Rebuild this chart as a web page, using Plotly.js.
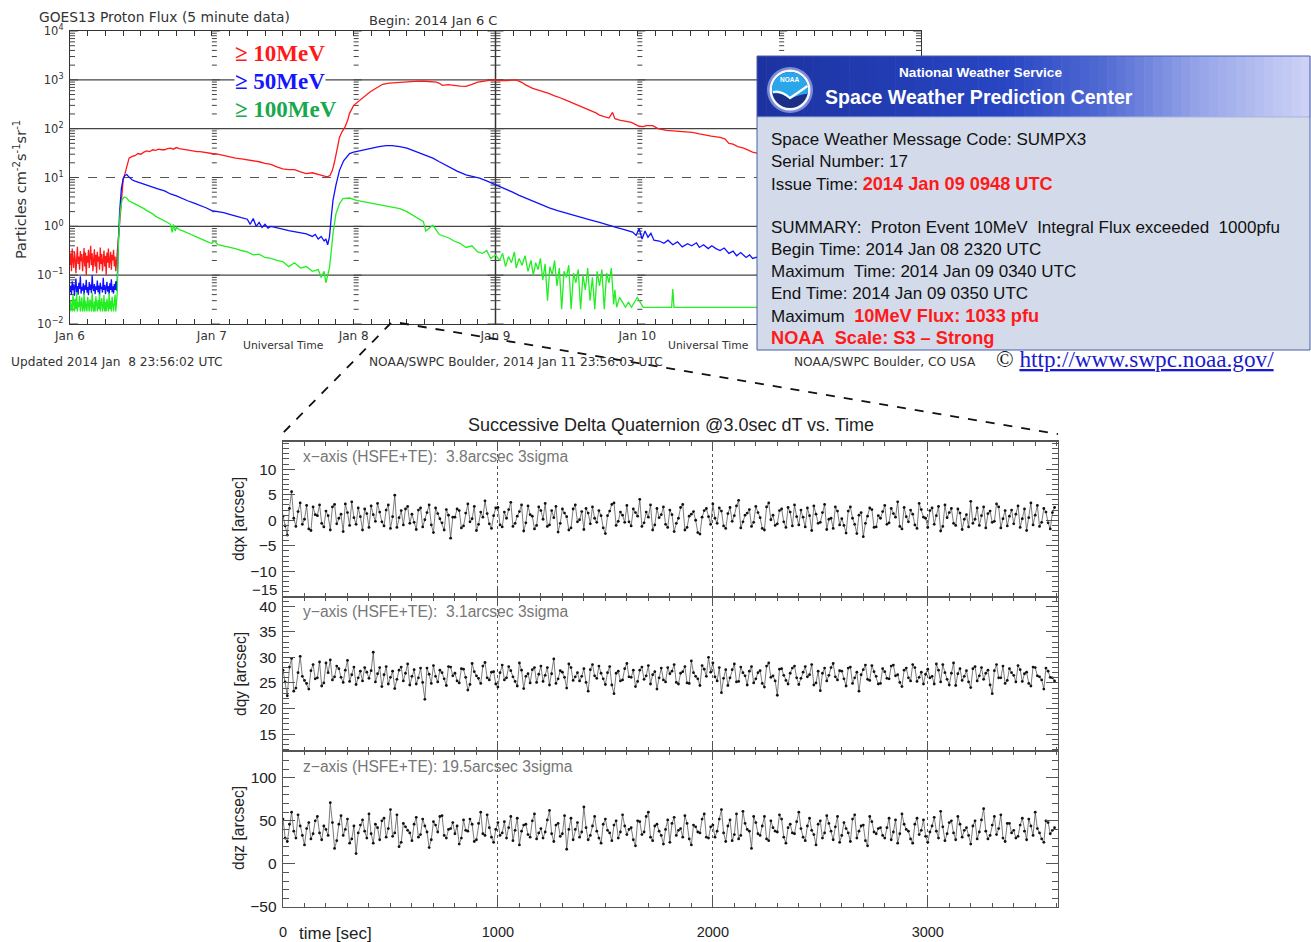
<!DOCTYPE html>
<html><head><meta charset="utf-8">
<script src="https://cdn.plot.ly/plotly-3.0.1.min.js"></script>
<style>html,body{margin:0;padding:0;background:#fff}#chart{width:1311px;height:942px}</style>
</head><body><div id="chart"></div>
<script>
// ---------------- GOES13 proton flux data (hours after 2014-01-06 00:00 UTC) ----------------
const bgHours = [0,0.125,0.25,0.375,0.5,0.625,0.75,0.875,1,1.125,1.25,1.375,1.5,1.625,1.75,1.875,2,2.125,2.25,2.375,2.5,2.625,2.75,2.875,3,3.125,3.25,3.375,3.5,3.625,3.75,3.875,4,4.125,4.25,4.375,4.5,4.625,4.75,4.875,5,5.125,5.25,5.375,5.5,5.625,5.75,5.875,6,6.125,6.25,6.375,6.5,6.625,6.75,6.875,7,7.125,7.25,7.375,7.5,7.625,7.75,7.875,8];
const redBg = [0.16,0.28,0.12,0.35,0.2,0.14,0.3,0.22,0.11,0.26,0.38,0.17,0.24,0.13,0.31,0.19,0.27,0.12,0.22,0.36,0.15,0.29,0.1,0.25,0.18,0.33,0.14,0.23,0.4,0.16,0.28,0.12,0.21,0.34,0.15,0.26,0.11,0.3,0.19,0.24,0.13,0.37,0.17,0.27,0.12,0.22,0.32,0.15,0.25,0.1,0.29,0.18,0.35,0.14,0.23,0.3,0.13,0.26,0.2,0.33,0.15,0.24,0.12,0.28,0.3];
const blueBg = [0.045,0.06,0.04,0.075,0.05,0.065,0.038,0.055,0.085,0.045,0.06,0.04,0.07,0.052,0.095,0.042,0.058,0.048,0.068,0.04,0.062,0.05,0.08,0.044,0.057,0.039,0.072,0.05,0.064,0.043,0.1,0.055,0.047,0.066,0.041,0.059,0.05,0.078,0.045,0.061,0.038,0.07,0.052,0.058,0.044,0.088,0.05,0.063,0.041,0.056,0.073,0.046,0.06,0.04,0.068,0.05,0.082,0.045,0.059,0.042,0.066,0.05,0.075,0.048,0.08];
const greenBg = [0.018,0.03,0.022,0.018,0.04,0.025,0.018,0.033,0.02,0.045,0.018,0.028,0.022,0.038,0.018,0.026,0.035,0.018,0.021,0.042,0.018,0.03,0.024,0.018,0.036,0.02,0.018,0.032,0.027,0.018,0.044,0.022,0.018,0.029,0.018,0.037,0.023,0.018,0.031,0.02,0.041,0.018,0.026,0.034,0.018,0.022,0.039,0.018,0.028,0.018,0.033,0.024,0.018,0.043,0.02,0.03,0.018,0.036,0.022,0.018,0.027,0.04,0.018,0.032,0.045];

const redHours = [8.2,8.4,8.7,9.0,9.3,9.7,10,10.5,11,11.5,12,12.5,13,13.5,14,14.5,15,15.5,16,16.5,17,17.5,18,18.5,19,19.5,20,20.5,21,21.5,22,22.5,23,23.5,24,25,26,27,28,29,30,31,32,33,34,35,36,37,38,39,40,41,42,42.5,43,43.5,44,44.4,44.8,45.2,45.6,46,46.5,47,47.3,48,49,50,50.7,51.5,52.2,52.9,54,55,55.8,57,58,59,60,61.3,62,62.5,63,64,65,66,67,67.5,68,69,70,71,71.5,72,73,74,75,75.5,76.5,77,78.3,79.5,80.5,81,82,82.5,84,85,86,86.7,88,89,89.6,90.5,91.2,91.8,92.2,93,94,95,96.3,97,97.5,98.6,99.5,100.9,102,103,104,105.3,106.5,107.6,108.5,110,110.8,111.5,112.2,113,114,115.5,117,120,124,128,132,136,140,144];
const redFlux = [0.6,1.2,4,9,12,20,25,27,28,31,30,33,35,34,37,36,38,37,37,39,40,38,41,39,38,37,37,36,35,34,34,33,32,31,31,30,28,27,25,24,23,22,21,19.5,18.5,16.5,15,14.5,14.5,13,12,12.5,11.5,11,10.5,10.3,11,14,22,40,66,85,106,150,206,300,380,470,555,640,730,810,860,880,890,910,930,940,935,930,900,850,770,800,760,740,735,760,810,900,950,975,1000,990,960,970,975,1000,880,800,670,600,560,530,470,450,380,340,300,275,235,210,190,175,165,215,160,150,140,135,112,110,115,115,100,92,90,88,86,84,78,73,70,66,62,50,48,43,40,33,30,27,22,19,17,15,13,12];

const blueHours = [8.2,8.4,8.7,9.0,9.3,9.6,10,10.5,11,12,13,14,15,16,17,18,19,20,21,22,23,24,25,26,27,28,29,30,30.5,31,31.5,32,32.5,33,33.5,34,35,36,37,38,39,40,41,41.5,42,42.5,43,43.3,43.6,43.9,44.2,44.5,45,45.6,46.3,47.3,48,49,50,51.2,52.3,53.5,54.5,55.8,57,58,59,60,61.4,62.5,63.3,64.2,65.5,67,68,69.3,70.5,72.2,73.5,74.9,76,77.7,79,80.3,81.1,82.5,84,85.3,86.7,88,89.6,90.5,91.5,92.4,93.5,94.5,95.2,95.8,96.3,96.8,97.3,97.8,98.3,98.8,99.7,100.5,101.2,102,102.8,103.6,104.5,105.2,106,106.5,107.2,108,108.6,109.3,110,110.7,111.5,112.2,112.8,113.5,114.4,115,115.5,116.5,118,120,124,128,132,136,140,144];
const blueFlux = [0.5,2,6,9.5,11,11.5,10.2,9,8.4,7.6,7,6.4,5.8,5.3,4.6,4.2,3.7,3.3,3.0,2.7,2.4,2.1,2.0,1.9,1.75,1.6,1.5,1.4,1.1,1.45,1.0,1.2,0.95,1.1,0.92,1.0,0.95,0.88,0.82,0.78,0.72,0.7,0.62,0.68,0.55,0.62,0.5,0.55,0.42,0.6,1.5,3.4,7,14,22,31,33,35,37,41,43,45,45,43,40,36,32,29,25,21,18.5,16.5,13.5,11.3,10.5,9.7,8.5,7,6,5,4.3,3.5,3.0,2.6,2.4,2.1,1.85,1.65,1.5,1.35,1.2,1.1,1.0,0.95,0.88,0.8,0.76,0.65,0.9,0.55,0.8,0.6,0.72,0.52,0.5,0.45,0.52,0.42,0.48,0.38,0.44,0.4,0.46,0.37,0.42,0.35,0.4,0.35,0.32,0.36,0.28,0.31,0.25,0.29,0.23,0.26,0.22,0.24,0.2,0.19,0.17,0.15,0.13,0.12,0.11,0.1];

const greenHours = [8.2,8.5,8.8,9.2,9.6,10,10.5,11,11.5,12,12.5,13,13.5,14,14.5,15,15.5,16,16.5,17,17.3,17.5,17.8,18,18.5,19,19.5,20,20.5,21,21.5,22,22.5,23,23.5,24,24.5,25,26,27,28,29,30,31,32,33,34,35,36,37,38,39,40,41,42,42.5,43,43.3,43.6,43.9,44.2,44.5,45,45.6,46.2,47.3,48.5,50.2,51.5,52.9,54.5,55.8,57,58.6,59.5,59.8,60.2,61.4,62.5,63.3,64.2,65,66,67,68,69,69.8,70.5,71.2,72,72.7,73.2,73.7,74.2,74.7,75.2,75.5,76,76.5,77,77.5,78,78.4,78.8,79.2,79.6,80,80.4,80.8,81.2,81.6,82,82.4,82.8,83.2,83.6,84,84.4,84.8,85.2,85.6,86,86.4,86.8,87.2,87.6,88,88.4,88.8,89.2,89.6,90,90.4,90.8,91.2,91.6,92,92.2,92.5,93,94,94.5,95,96,97,98,100,101.8,102,102.2,102.4,103,106,110,115,120,130,144];
const greenFlux = [0.5,2,3.5,4,3.8,3.3,3.1,2.9,2.7,2.5,2.3,2.1,1.95,1.8,1.6,1.5,1.4,1.3,1.2,1.1,0.75,1.1,0.8,0.95,0.85,0.82,0.78,0.72,0.68,0.64,0.6,0.56,0.52,0.5,0.47,0.45,0.5,0.42,0.4,0.37,0.35,0.32,0.3,0.26,0.27,0.23,0.22,0.2,0.19,0.15,0.18,0.14,0.15,0.12,0.13,0.09,0.12,0.07,0.1,0.14,0.3,0.7,1.8,2.9,3.7,3.8,3.4,3.1,2.9,2.7,2.5,2.3,2.0,1.5,1.3,1.25,0.8,1.05,0.68,0.62,0.57,0.5,0.45,0.37,0.4,0.3,0.28,0.32,0.22,0.26,0.2,0.28,0.15,0.24,0.18,0.3,0.14,0.22,0.16,0.25,0.12,0.2,0.1,0.18,0.13,0.22,0.08,0.17,0.03,0.15,0.1,0.2,0.06,0.14,0.02,0.12,0.09,0.16,0.02,0.11,0.07,0.13,0.02,0.1,0.05,0.14,0.03,0.09,0.02,0.12,0.06,0.13,0.02,0.11,0.07,0.14,0.025,0.05,0.022,0.035,0.022,0.028,0.022,0.035,0.022,0.022,0.022,0.022,0.052,0.022,0.022,0.022,0.022,0.022,0.022,0.022,0.022,0.022];

const dayTicks = ['Jan 6','Jan 7','Jan 8','Jan 9','Jan 10',''];

// ---------------- Successive delta quaternion data (3.0 s dT, shown every 10 s: even + odd samples) ----------------
const sampleStep = 10;
const dqxEven = [
0.8,-2.9,5.6,-1.2,3.4,0.2,-1.7,2.6,0.9,-0.6,
1.8,-1.9,3.1,0.4,-2.2,1.5,3.6,-0.8,0.7,2.2,
-1.4,1.1,3.3,-0.3,2.0,-1.6,4.9,0.5,-0.9,2.7,
1.2,-1.8,2.4,0.1,3.0,-2.4,1.3,-0.5,2.1,-3.5,
0.6,1.9,-1.1,3.2,0.3,-2.0,1.6,3.8,-0.7,0.9,
2.5,-1.3,0.4,3.5,-0.6,1.7,-2.1,2.8,0.8,-1.0,
1.9,3.3,-0.9,0.5,-2.3,2.2,0.7,-1.5,3.0,0.1,
-1.8,1.4,2.6,-0.4,0.9,-2.6,1.8,3.4,-0.2,1.0,
2.9,-1.1,1.5,4.1,-0.5,0.6,-1.9,2.3,1.1,-0.8,
2.0,-2.2,0.4,3.1,-1.4,1.2,0.0,-2.7,1.9,0.7,
3.2,-0.6,1.8,-1.6,2.5,0.9,3.9,-0.3,1.4,-1.2,
2.7,0.5,-1.9,3.4,1.0,-0.7,2.2,-1.4,1.6,3.0,
-0.9,0.6,2.4,-2.0,1.2,-0.4,3.1,0.2,-1.6,1.8,
0.3,-2.5,2.6,-0.8,1.0,-3.2,0.8,2.1,-1.3,0.4,
2.9,-0.5,1.3,3.6,-1.7,0.7,2.0,-0.9,3.3,0.6,
-1.4,2.4,0.9,-2.1,3.0,1.5,-0.6,2.2,-1.8,1.1,
3.7,0.2,-1.0,2.6,1.3,-0.4,3.2,-1.5,1.9,0.8,
-0.7,2.8,0.3,-2.0,3.4,1.0,-1.2,2.3,-0.5,1.5];
const dqxOdd = [
-1.1,2.3,0.4,1.7,-0.8,2.9,-2.0,1.1,3.0,-1.3,
0.9,2.6,-0.7,1.2,3.2,-1.0,0.5,2.4,-1.9,1.3,
2.8,-0.2,1.6,-1.1,3.0,0.7,-1.4,1.9,2.2,-0.6,
-0.4,2.0,-1.3,1.5,-0.9,2.4,0.3,-1.9,1.0,0.6,
2.2,-1.5,1.4,-0.3,2.7,-0.8,0.6,1.3,-1.6,2.4,
-0.9,1.6,2.1,-1.2,0.8,3.0,-0.5,1.1,-1.7,2.6,
0.2,-1.2,1.9,2.7,-0.6,1.4,-1.9,2.2,-0.3,1.7,
2.3,-0.7,0.4,1.9,-1.5,0.9,3.1,-1.0,1.6,-0.4,
-0.3,2.2,0.8,-1.2,1.6,3.0,-0.9,0.5,2.6,-1.4,
1.1,-0.6,2.5,-1.9,0.8,1.7,-2.4,0.6,2.3,-0.8,
0.4,2.4,-1.1,1.3,-0.2,2.8,-1.5,1.0,2.1,-0.4,
1.5,-1.6,2.6,0.1,-1.0,1.9,-0.3,2.5,-1.1,0.7,
2.0,-1.3,0.9,2.8,-0.6,1.5,-1.8,0.4,2.6,-0.9,
-1.0,1.8,0.4,-2.6,1.5,-0.6,2.4,-1.4,0.9,1.7,
-0.8,2.3,0.6,-1.2,2.5,-0.3,1.2,-1.6,2.1,0.4,
1.9,-0.8,2.7,-1.2,0.5,2.3,-1.0,1.4,0.2,-1.3,
-0.6,2.4,0.9,-1.5,1.8,-0.2,2.6,0.3,-1.1,2.0,
1.2,-1.4,2.2,0.5,-0.9,2.9,-0.4,1.6,-1.7,2.5];
const dqyEven = [
27.5,22.5,29.8,24.0,30.2,25.5,23.8,28.6,26.0,24.4,
28.9,29.5,26.2,27.8,25.1,29.4,26.6,24.7,27.3,28.0,
25.9,31.0,26.8,24.3,28.2,26.1,23.9,27.5,25.4,28.7,
26.3,24.8,27.9,21.8,26.7,28.4,25.2,27.0,24.5,28.1,
26.9,25.0,27.7,23.6,28.8,26.4,24.9,29.0,25.6,27.2,
24.2,28.5,26.0,27.4,25.3,28.9,23.9,26.8,27.6,25.1,
28.3,26.5,24.6,29.7,25.8,27.1,24.0,28.0,26.2,25.4,
27.8,23.4,28.6,25.9,26.9,24.7,28.2,22.9,27.3,25.6,
28.8,26.1,24.3,27.5,25.7,28.4,26.6,23.8,27.9,25.2,
26.8,28.6,24.8,27.2,25.0,29.3,26.3,24.5,27.7,30.0,
28.9,25.4,23.1,27.6,26.0,28.7,25.3,27.0,24.6,28.2,
25.8,27.4,24.2,28.9,26.4,22.6,27.8,25.5,26.9,28.3,
24.7,27.1,26.2,28.6,25.0,23.5,27.9,26.5,28.8,25.6,
27.3,24.4,28.1,26.0,23.4,27.6,25.7,28.4,26.3,24.9,
27.2,25.8,28.5,26.6,24.3,27.9,25.4,28.0,26.1,24.8,
27.7,26.3,28.7,25.2,27.0,24.6,28.9,26.8,25.5,27.4,
24.1,28.2,26.4,25.7,27.5,22.9,28.6,26.0,24.9,27.8,
26.5,28.4,25.3,27.1,24.4,28.0,26.2,23.8,27.3,26.0];
const dqyOdd = [
25.2,28.1,23.4,27.0,26.3,24.9,27.4,25.8,29.1,25.0,
27.0,25.6,28.3,26.1,27.5,25.3,28.1,26.0,25.4,27.1,
27.4,25.2,28.0,26.6,24.8,27.3,25.7,28.1,26.9,24.6,
27.6,26.0,25.1,27.9,24.9,26.3,27.5,25.8,28.2,26.4,
25.4,27.8,26.1,24.7,27.2,25.9,28.3,26.0,27.1,24.8,
27.0,25.6,28.2,26.2,24.4,27.5,26.3,25.0,28.0,26.7,
25.3,28.0,26.8,24.9,27.4,26.1,28.7,25.5,27.0,26.3,
25.1,27.6,26.4,28.3,25.8,27.0,24.6,26.9,25.4,27.8,
26.2,27.5,25.3,28.1,26.4,24.8,27.2,26.0,25.6,28.0,
27.3,25.1,26.9,28.2,24.9,27.0,25.8,28.4,26.3,27.1,
26.2,28.0,25.9,24.5,27.6,25.2,28.1,26.4,27.3,25.0,
27.0,24.9,28.3,26.1,25.4,27.7,26.5,24.8,27.9,26.0,
25.9,28.2,26.6,24.6,27.3,26.9,25.4,28.0,26.2,27.4,
25.8,27.9,24.9,27.1,26.6,28.5,25.5,27.2,24.8,27.8,
25.9,28.3,26.4,25.1,27.5,26.0,28.6,25.3,27.1,26.7,
26.0,24.8,27.5,28.6,25.7,26.9,24.5,27.8,26.3,25.2,
27.8,25.4,28.0,26.9,24.6,27.4,26.0,28.3,25.5,27.0,
25.2,27.6,26.8,24.9,28.1,26.4,25.6,27.9,26.1,25.4];
const dqzEven = [
52,26,60,30,44,22,48,35,55,28,
40,71,18,46,33,52,29,12,45,38,
58,24,42,50,31,63,36,20,47,39,
27,54,34,44,19,49,37,56,30,41,
35,23,51,38,46,28,60,33,42,25,
48,36,30,55,39,22,45,34,50,29,
41,37,62,26,47,35,17,53,40,31,
66,28,44,38,24,52,36,45,30,57,
34,42,21,49,37,60,27,46,33,40,
25,54,39,31,47,22,43,36,58,30,
45,38,63,26,51,34,29,61,40,18,
48,33,55,27,42,37,52,24,46,35,
60,31,44,39,22,50,36,47,28,55,
33,41,26,57,38,45,21,49,35,42,
30,53,37,24,58,40,29,46,34,51,
25,44,38,61,27,48,36,55,31,42,
23,50,37,64,29,45,34,57,26,47,
39,32,53,28,44,60,36,25,48,39];
const dqzOdd = [
30,46,38,57,33,41,29,50,36,44,
33,48,27,56,40,24,44,36,51,30,
35,46,28,53,41,32,57,25,43,36,
46,31,52,37,28,45,55,33,40,48,
44,30,39,52,26,47,35,57,31,40,
33,49,42,27,53,38,46,31,58,36,
30,51,35,45,32,56,40,28,48,37,
42,33,55,30,46,39,27,50,37,44,
40,28,50,34,55,31,44,38,23,51,
47,33,41,56,29,45,37,52,31,43,
31,52,36,44,27,58,33,47,38,55,
35,44,29,50,38,57,31,42,36,49,
41,27,53,34,46,30,56,38,43,25,
48,36,52,30,44,27,55,37,41,33,
42,28,51,35,46,38,24,53,39,32,
37,54,30,43,35,50,28,46,39,33,
44,29,51,38,33,55,41,30,47,36,
30,45,38,52,33,41,29,50,35,42];
const panelNotes = ['x\u2212axis (HSFE+TE):\u00a0 3.8arcsec 3sigma','y\u2212axis (HSFE+TE):\u00a0 3.1arcsec 3sigma','z\u2212axis (HSFE+TE): 19.5arcsec 3sigma'];
const panelTitles = ['dqx [arcsec]','dqy [arcsec]','dqz [arcsec]'];

// ---------------- helpers ----------------
const W = 1311, H = 942;
const X = p => p / W, Y = p => 1 - p / H;
const T0 = Date.UTC(2014, 0, 6);
const toDate = h => new Date(T0 + h * 3600000).toISOString().slice(0, 19).replace('T', ' ');
const TL = 70, TR = 921, TT = 31, TB = 324;
const LY = v => TB - (Math.log10(v) + 2) / 6 * (TB - TT);
const DX = d => TL + d * (TR - TL) / 6;
const interleave = (a, b) => { const o = []; a.forEach((v, i) => { o.push(v); if (i < b.length) o.push(b[i]); }); return o; };
const tTimes = arr => arr.map((_, i) => i * sampleStep);

const redX = bgHours.concat(redHours).map(toDate), redY = redBg.concat(redFlux);
const blueX = bgHours.concat(blueHours).map(toDate), blueY = blueBg.concat(blueFlux);
const greenX = bgHours.concat(greenHours).map(toDate), greenY = greenBg.concat(greenFlux);

const data = [
  {x: redX, y: redY, type: 'scatter', mode: 'lines', line: {color: '#ff1a1a', width: 1.3}, xaxis: 'x', yaxis: 'y', hoverinfo: 'skip'},
  {x: blueX, y: blueY, type: 'scatter', mode: 'lines', line: {color: '#1010ff', width: 1.3}, xaxis: 'x', yaxis: 'y', hoverinfo: 'skip'},
  {x: greenX, y: greenY, type: 'scatter', mode: 'lines', line: {color: '#22ee22', width: 1.3}, xaxis: 'x', yaxis: 'y', hoverinfo: 'skip'}
];
[interleave(dqxEven, dqxOdd), interleave(dqyEven, dqyOdd), interleave(dqzEven, dqzOdd)].forEach((arr, i) => {
  data.push({x: tTimes(arr), y: arr, type: 'scatter', mode: 'lines+markers',
    line: {color: '#444', width: 0.7}, marker: {color: '#111', size: 2.8},
    xaxis: 'x' + (i + 2), yaxis: 'y' + (i + 2), hoverinfo: 'skip'});
});

// ---------------- shapes ----------------
const shapes = [];
const hline = (x0, x1, y, color, width, dash, layer) => shapes.push({type: 'line', xref: 'paper', yref: 'paper', x0: X(x0), x1: X(x1), y0: Y(y), y1: Y(y), line: {color, width, dash: dash || 'solid'}, layer: layer || 'below'});
const vline = (x, y0, y1, color, width, dash, layer) => shapes.push({type: 'line', xref: 'paper', yref: 'paper', x0: X(x), x1: X(x), y0: Y(y0), y1: Y(y1), line: {color, width, dash: dash || 'solid'}, layer: layer || 'below'});

[1000, 100, 1, 0.1].forEach(v => hline(TL, TR, LY(v), '#444', 1.2));
hline(TL, TR, LY(10), '#555', 1.2, 'dash');
vline(DX(3), TB, TT, '#333', 1.5);

function tickColumn(xpx, dir) {
  for (let d = -2; d <= 4; d++) for (let m = 1; m <= 9; m++) {
    if (d === 4 && m > 1) break;
    const py = LY(m * Math.pow(10, d));
    const len = m === 1 ? 8 : 5;
    const x0 = dir === 0 ? xpx - len : xpx, x1 = dir === 0 ? xpx + len : xpx + dir * len;
    hline(x0, x1, py, '#444', 1);
  }
}
tickColumn(TL, 1); tickColumn(TR, -1); tickColumn(DX(3), 0);
[1, 2, 4, 5].forEach(d => tickColumn(DX(d), 1));

// connector dashed lines
shapes.push({type: 'line', xref: 'paper', yref: 'paper', x0: X(391), y0: Y(323), x1: X(282), y1: Y(434), line: {color: '#111', width: 1.8, dash: 'dash'}, layer: 'above'});
shapes.push({type: 'line', xref: 'paper', yref: 'paper', x0: X(400), y0: Y(323), x1: X(1058), y1: Y(434), line: {color: '#111', width: 1.8, dash: 'dash'}, layer: 'above'});

// NOAA message box
const BX0 = 757, BX1 = 1310, BY0 = 56, BH = 117, BY1 = 350;
shapes.push({type: 'rect', xref: 'paper', yref: 'paper', x0: X(BX0), x1: X(BX1), y0: Y(BH), y1: Y(BY1), fillcolor: '#d3dbea', line: {width: 0}, layer: 'above'});
const stops = [[0, [28, 50, 160]], [0.45, [40, 70, 195]], [0.62, [80, 105, 210]], [0.8, [150, 165, 232]], [1, [206, 211, 246]]];
function grad(t) {
  for (let i = 1; i < stops.length; i++) if (t <= stops[i][0]) {
    const a = stops[i - 1], b = stops[i], f = (t - a[0]) / (b[0] - a[0]);
    return 'rgb(' + a[1].map((c, k) => Math.round(c + f * (b[1][k] - c))).join(',') + ')';
  }
  return 'rgb(206,211,246)';
}
const NS = 60, sw = (BX1 - BX0) / NS;
for (let i = 0; i < NS; i++) {
  shapes.push({type: 'rect', xref: 'paper', yref: 'paper', x0: X(BX0 + i * sw), x1: X(BX0 + (i + 1) * sw + 0.6), y0: Y(BY0), y1: Y(BH), fillcolor: grad((i + 0.5) / NS), line: {width: 0}, layer: 'above'});
}
hline(BX0, BX1, BH, '#a9b4dc', 1.2, 'solid', 'above');
shapes.push({type: 'rect', xref: 'paper', yref: 'paper', x0: X(BX0), x1: X(BX1), y0: Y(BY0), y1: Y(BY1), line: {color: '#4a5ea8', width: 1}, layer: 'above'});
// logo
const LCX = 790, LCY = 90;
const circ = (r, fill) => shapes.push({type: 'circle', xref: 'paper', yref: 'paper', x0: X(LCX - r), x1: X(LCX + r), y0: Y(LCY - r), y1: Y(LCY + r), fillcolor: fill, line: {width: 0}, layer: 'above'});
circ(23, 'rgba(200,210,255,0.55)');
circ(20.5, '#f4f6ff');
circ(18, '#1b2f86');
let p = [];
for (let a = 168; a <= 372; a += 6) {
  const r = a * Math.PI / 180;
  p.push([LCX + 18 * Math.cos(r), LCY + 18 * Math.sin(r)]);
}
let path = 'M ' + X(LCX - 17.6) + ',' + Y(LCY + 3.7);
p.forEach(q => path += ' L ' + X(q[0]) + ',' + Y(q[1]));
path += ' Q ' + X(800) + ',' + Y(LCY + 4) + ' ' + X(LCX) + ',' + Y(LCY + 9) + ' Q ' + X(781) + ',' + Y(LCY + 2) + ' ' + X(LCX - 17.6) + ',' + Y(LCY + 3.7) + ' Z';
shapes.push({type: 'path', xref: 'paper', yref: 'paper', path, fillcolor: '#2aa6ea', line: {width: 0}, layer: 'above'});
shapes.push({type: 'path', xref: 'paper', yref: 'paper', path: 'M ' + X(773) + ',' + Y(LCY + 2) + ' Q ' + X(781) + ',' + Y(LCY) + ' ' + X(LCX) + ',' + Y(LCY + 8) + ' Q ' + X(799) + ',' + Y(LCY + 2) + ' ' + X(807.5) + ',' + Y(LCY - 4), line: {color: '#ffffff', width: 2.2}, layer: 'above'});

// ---------------- annotations ----------------
const ann = [];
const A = (x, y, text, o) => ann.push(Object.assign({xref: 'paper', yref: 'paper', x: X(x), y: Y(y), text, showarrow: false, xanchor: 'left', yanchor: 'middle',
  font: {family: 'DejaVu Sans', size: 12.2, color: '#333'}}, o || {}));
A(37, 17, 'GOES13 Proton Flux (5 minute data)', {font: {family: 'DejaVu Sans', size: 13.8, color: '#333'}});
A(367, 21, 'Begin: 2014 Jan 6 C', {font: {family: 'DejaVu Sans', size: 13, color: '#333'}});
A(20, 190, 'Particles cm<sup>-2</sup>s<sup>-1</sup>sr<sup>-1</sup>', {xanchor: 'center', textangle: -90, font: {family: 'DejaVu Sans', size: 14.5, color: '#333'}});
A(283, 346, 'Universal Time', {xanchor: 'center', font: {family: 'DejaVu Sans', size: 10.8, color: '#333'}});
A(708, 346, 'Universal Time', {xanchor: 'center', font: {family: 'DejaVu Sans', size: 10.8, color: '#333'}});
A(9, 362, 'Updated 2014 Jan\u00a0 8 23:56:02 UTC');
A(367, 362, 'NOAA/SWPC Boulder, 2014 Jan 11 23:56:03 UTC');
A(792, 362, 'NOAA/SWPC Boulder, CO USA');
A(994, 359, '\u00a9 <span style="color:#1a1acc;text-decoration:underline">http://www.swpc.noaa.gov/</span>', {font: {family: 'Liberation Serif', size: 23.2, color: '#111'}});
const legendFont = c => ({family: 'Liberation Serif', size: 23, color: c});
A(234, 54, '<b>\u2265 10MeV</b>', {font: legendFont('#ff1a1a'), bgcolor: '#ffffff', borderpad: 0});
A(234, 82, '<b>\u2265 50MeV</b>', {font: legendFont('#1515ff'), bgcolor: '#ffffff', borderpad: 0});
A(234, 110, '<b>\u2265 100MeV</b>', {font: legendFont('#19a84d'), bgcolor: '#ffffff', borderpad: 0});

// box text
A(980, 73, '<b>National Weather Service</b>', {xanchor: 'center', font: {family: 'Liberation Sans', size: 13.6, color: '#ffffff'}});
A(979, 97, '<b>Space Weather Prediction Center</b>', {xanchor: 'center', font: {family: 'Liberation Sans', size: 19.5, color: '#ffffff'}});
A(790, 80, '<b>NOAA</b>', {xanchor: 'center', font: {family: 'Liberation Sans', size: 6.5, color: '#ffffff'}});
const RED = s => '<span style="color:#ff1a1a;font-size:18.2px"><b>' + s + '</b></span>';
const boxLines = [
  [140, 'Space Weather Message Code: SUMPX3'],
  [162, 'Serial Number: 17'],
  [184, 'Issue Time: ' + RED('2014 Jan 09 0948 UTC')],
  [228, 'SUMMARY:\u00a0 Proton Event 10MeV\u00a0 Integral Flux exceeded\u00a0 1000pfu'],
  [250, 'Begin Time: 2014 Jan 08 2320 UTC'],
  [272, 'Maximum\u00a0 Time: 2014 Jan 09 0340 UTC'],
  [294, 'End Time: 2014 Jan 09 0350 UTC'],
  [316, 'Maximum\u00a0 ' + RED('10MeV Flux: 1033 pfu')],
  [338, RED('NOAA\u00a0 Scale: S3 \u2013 Strong')]
];
boxLines.forEach(l => A(769, l[0], l[1], {font: {family: 'Liberation Sans', size: 17, color: '#111'}}));

// bottom panel text
A(671, 425, 'Successive Delta Quaternion @3.0sec dT vs. Time', {xanchor: 'center', font: {family: 'Liberation Sans', size: 18, color: '#222'}});
[456, 611, 766].forEach((y, i) => A(301, y, panelNotes[i], {font: {family: 'Liberation Sans', size: 15.6, color: '#777'}}));
[[238, 519], [240, 674], [238, 828]].forEach((c, i) => A(c[0], c[1], panelTitles[i], {xanchor: 'center', textangle: -90, font: {family: 'Liberation Sans', size: 15.6, color: '#222'}}));
A(297, 933, 'time [sec]', {font: {family: 'Liberation Sans', size: 17, color: '#222'}});
A(279, 589, '\u221215', {xanchor: 'right', font: {family: 'Liberation Sans', size: 15, color: '#222'}});

// ---------------- axes ----------------
const PX0 = 283, PX1 = 1058;
const panelY = [[441.5, 597], [597, 751], [751, 907]];
const layout = {
  width: W, height: H, margin: {l: 0, r: 0, t: 0, b: 0}, paper_bgcolor: '#ffffff', plot_bgcolor: 'rgba(0,0,0,0)', showlegend: false,
  xaxis: {domain: [X(TL), X(TR)], anchor: 'y', type: 'date', range: [toDate(0), toDate(144)],
    tickmode: 'array', tickvals: [0, 24, 48, 72, 96, 120].map(toDate), ticktext: dayTicks,
    ticks: 'inside', ticklen: 5, tickcolor: '#333', showline: true, linecolor: '#333', linewidth: 1.2, mirror: 'ticks',
    showgrid: false, zeroline: false, tickfont: {family: 'DejaVu Sans', size: 12, color: '#333'}, ticklabelstandoff: 0,
    minor: {tickmode: 'linear', tick0: toDate(0), dtick: 10800000, ticks: 'inside', ticklen: 5, tickcolor: '#333', showgrid: false}},
  yaxis: {domain: [Y(TB), Y(TT)], anchor: 'x', type: 'log', range: [-2, 4],
    tickmode: 'array', tickvals: [0.01, 0.1, 1, 10, 100, 1000, 10000],
    ticktext: ['10<sup>\u22122</sup>', '10<sup>\u22121</sup>', '10<sup>0</sup>', '10<sup>1</sup>', '10<sup>2</sup>', '10<sup>3</sup>', '10<sup>4</sup>'],
    ticks: '', showline: true, linecolor: '#333', linewidth: 1.2, mirror: true, showgrid: false, zeroline: false,
    tickfont: {family: 'DejaVu Sans', size: 11.5, color: '#333'}, ticklabelstandoff: 3}
};
const yCfg = [
  {range: [-15, 15.4], tickmode: 'array', tickvals: [-10, -5, 0, 5, 10], minor: 1},
  {range: [11.7, 41.8], tickmode: 'linear', tick0: 0, dtick: 5, minor: 1},
  {range: [-50, 131], tickmode: 'linear', tick0: 0, dtick: 50, minor: 10}
];
for (let i = 0; i < 3; i++) {
  const n = i + 2;
  layout['xaxis' + n] = {domain: [X(PX0), X(PX1)], anchor: 'y' + n, range: [0, 3606], tickmode: 'linear', tick0: 0, dtick: 1000,
    ticks: 'inside', ticklen: 9, tickcolor: '#555', showline: true, linecolor: '#555', linewidth: 1.4, mirror: 'ticks',
    showgrid: true, griddash: 'dot', gridcolor: '#555', gridwidth: 1, zeroline: false,
    showticklabels: i === 2, ticklabelstandoff: 11, tickfont: {family: 'Liberation Sans', size: 14.5, color: '#222'},
    minor: {tickmode: 'linear', tick0: 0, dtick: 100, ticks: 'inside', ticklen: 4, tickcolor: '#555', showgrid: false}};
  const c = yCfg[i];
  const ya = {domain: [Y(panelY[i][1]), Y(panelY[i][0])], anchor: 'x' + n, range: c.range, tickmode: c.tickmode,
    ticks: 'inside', ticklen: 12, tickcolor: '#555', showline: true, linecolor: '#555', linewidth: 1.4, mirror: 'ticks',
    showgrid: false, zeroline: false, tickfont: {family: 'Liberation Sans', size: 15.5, color: '#222'}, ticklabelstandoff: 2,
    minor: {tickmode: 'linear', tick0: 0, dtick: c.minor, ticks: 'inside', ticklen: 6, tickcolor: '#555', showgrid: false}};
  if (c.tickvals) ya.tickvals = c.tickvals; else { ya.tick0 = c.tick0; ya.dtick = c.dtick; }
  layout['yaxis' + n] = ya;
}
layout.shapes = shapes;
layout.annotations = ann;
Plotly.newPlot('chart', data, layout, {staticPlot: true, displayModeBar: false});
</script></body></html>
